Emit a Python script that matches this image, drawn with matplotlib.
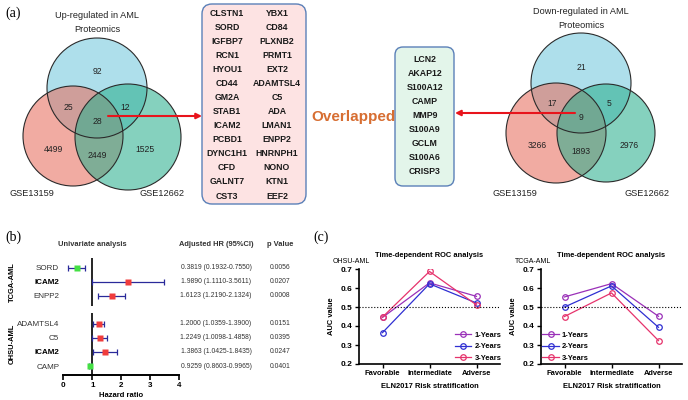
import numpy as np
import matplotlib
matplotlib.use('Agg')
import matplotlib.pyplot as plt
from matplotlib.patches import Circle, FancyBboxPatch

plt.rcParams['font.family'] = ['Liberation Sans', 'DejaVu Sans']

W, H = 688, 400

# ---- panel (a) data ----
venn_regions = ['P', 'G1', 'G2', 'P_G1', 'P_G2', 'G1_G2', 'all']
up_counts = [92, 4499, 1525, 25, 12, 2449, 28]
down_counts = [21, 3266, 2976, 17, 5, 1893, 9]
up_genes_1 = ['CLSTN1', 'SORD', 'IGFBP7', 'RCN1', 'HYOU1', 'CD44', 'GM2A',
              'STAB1', 'ICAM2', 'PCBD1', 'DYNC1H1', 'CFD', 'GALNT7', 'CST3']
up_genes_2 = ['YBX1', 'CD84', 'PLXNB2', 'PRMT1', 'EXT2', 'ADAMTSL4', 'C5',
              'ADA', 'LMAN1', 'ENPP2', 'HNRNPH1', 'NONO', 'KTN1', 'EEF2']
down_genes = ['LCN2', 'AKAP12', 'S100A12', 'CAMP', 'MMP9', 'S100A9', 'GCLM',
              'S100A6', 'CRISP3']

# ---- panel (b) data ----
hr_genes = ['SORD', 'ICAM2', 'ENPP2', 'ADAMTSL4', 'C5', 'ICAM2', 'CAMP']
hr_val = [0.46, 2.22, 1.67, 1.23, 1.25, 1.44, 0.92]
hr_lo = [0.17, 1.00, 1.20, 1.03, 1.00, 1.03, 0.88]
hr_hi = [0.75, 3.47, 2.12, 1.41, 1.50, 1.84, 0.96]
hr_text = ['0.3819 (0.1932-0.7550)', '1.9890 (1.1110-3.5611)',
           '1.6123 (1.2190-2.1324)', '1.2000 (1.0359-1.3900)',
           '1.2249 (1.0098-1.4858)', '1.3863 (1.0425-1.8435)',
           '0.9259 (0.8603-0.9965)']
p_text = ['0.0056', '0.0207', '0.0008', '0.0151', '0.0395', '0.0247', '0.0401']
hr_bold = [False, True, False, False, False, True, False]

# ---- panel (c) data ----
risk_groups = ['Favorable', 'Intermediate', 'Adverse']
years = ['1-Years', '2-Years', '3-Years']
ohsu_auc = [[0.445, 0.627, 0.556], [0.365, 0.622, 0.521], [0.447, 0.687, 0.511]]
tcga_auc = [[0.553, 0.623, 0.451], [0.500, 0.611, 0.393], [0.450, 0.574, 0.323]]
year_colors = ['#9a30b8', '#2f2fd2', '#e6336c']


def fx(px):
    return px / W


def fy(py):
    return 1 - py / H


fig = plt.figure(figsize=(6.88, 4), dpi=100)

bg = fig.add_axes([0, 0, 1, 1])
bg.set_xlim(0, W)
bg.set_ylim(H, 0)
bg.axis('off')

# offsets of the region numbers from the top circle centre
reg_off = [(0, -17), (-44, 62), (48, 62), (-29, 19), (28, 19), (0, 67), (0, 34)]
circ_cols = ['#74c8de', '#e86f60', '#2db08f']


def venn(cx, cy, circles, counts, title):
    for (x, y, r), c in zip(circles, circ_cols):
        bg.add_patch(Circle((x, y), r, facecolor=c, alpha=0.58, edgecolor='none'))
    for (x, y, r) in circles:
        bg.add_patch(Circle((x, y), r, facecolor='none', edgecolor='#2b2b2b', lw=0.8))
    for (dx, dy), n in zip(reg_off, counts):
        bg.text(cx + dx, cy + dy, str(n), ha='center', va='center',
                fontsize=6.2, color='#222222')
    bg.text(cx, cy - 72, title, ha='center', va='center', fontsize=6.6, color='#222222')
    bg.text(cx, cy - 59, 'Proteomics', ha='center', va='center', fontsize=6.6,
            color='#222222')


venn(97, 88, [(97, 88, 50), (73, 136, 50), (128, 137, 53)], up_counts,
     'Up-regulated in AML')
bg.text(32, 193, 'GSE13159', ha='center', va='center', fontsize=6.6, color='#222222')
bg.text(162, 193, 'GSE12662', ha='center', va='center', fontsize=6.6, color='#222222')

venn(581, 84, [(581, 83, 50), (556, 133, 50), (606, 133, 49)], down_counts,
     'Down-regulated in AML')
bg.text(515, 193, 'GSE13159', ha='center', va='center', fontsize=6.6, color='#222222')
bg.text(647, 193, 'GSE12662', ha='center', va='center', fontsize=6.6, color='#222222')

# gene boxes
bg.add_patch(FancyBboxPatch((202, 4), 104, 200, boxstyle='round,pad=0,rounding_size=10',
                            facecolor='#fde3e3', edgecolor='#5b80b8', lw=1))
for i, (g1, g2) in enumerate(zip(up_genes_1, up_genes_2)):
    y = 13 + 14.08 * i
    bg.text(227, y, g1, ha='center', va='center', fontsize=6.3, fontweight='bold',
            color='#1a1a1a')
    bg.text(277, y, g2, ha='center', va='center', fontsize=6.3, fontweight='bold',
            color='#1a1a1a')

bg.add_patch(FancyBboxPatch((395, 47), 59, 139, boxstyle='round,pad=0,rounding_size=8',
                            facecolor='#e3f5ea', edgecolor='#5b80b8', lw=1))
for i, g in enumerate(down_genes):
    bg.text(425, 60 + 14 * i, g, ha='center', va='center', fontsize=6.3,
            fontweight='bold', color='#1a1a1a')

bg.text(353, 117, 'Overlapped', ha='center', va='center', fontsize=11,
        fontweight='bold', color='#d76e32')

arrow = dict(arrowstyle='-|>', color='#e8141c', lw=1.5, mutation_scale=8,
             shrinkA=0, shrinkB=0)
bg.annotate('', xy=(202, 116), xytext=(108, 116), arrowprops=arrow)
bg.annotate('', xy=(455, 113), xytext=(575, 113), arrowprops=arrow)

# panel labels
for lab, x, y in [('(a)', 13, 13), ('(b)', 13, 237), ('(c)', 321, 237)]:
    bg.text(x, y, lab, ha='center', va='center', fontsize=10,
            family='Liberation Serif')

# ---- panel (b): forest plot ----
rows = [0, 1, 2, 4, 5, 6, 7]
axb = fig.add_axes([fx(63.3), fy(375), fx(116), 117 / H])
axb.set_xlim(0, 4)
axb.set_ylim(7.64, -0.7)
for s in ['left', 'top', 'right']:
    axb.spines[s].set_visible(False)
axb.spines['bottom'].set_linewidth(1.4)
axb.vlines(1, -0.7, 2.75, color='black', lw=1.2)
axb.vlines(1, 3.2, 7.64, color='black', lw=1.2)
for r, v, lo, hi in zip(rows, hr_val, hr_lo, hr_hi):
    axb.errorbar(v, r, xerr=[[v - lo], [hi - v]], fmt='none', ecolor='#2a2a9a',
                 elinewidth=0.9, capsize=2, capthick=0.9)
    axb.plot(v, r, 's', ms=5, color='#44e044' if v < 1 else '#f03c3c', mec='none')
axb.set_xticks([0, 1, 2, 3, 4])
axb.tick_params(axis='x', length=3.5, width=1.2, pad=1.5, labelsize=5.8)
for t in axb.get_xticklabels():
    t.set_fontweight('bold')
axb.set_yticks(rows)
axb.set_yticklabels(hr_genes, fontsize=5.8, color='#333333')
axb.tick_params(axis='y', length=0, pad=3)
for t, b in zip(axb.get_yticklabels(), hr_bold):
    if b:
        t.set_fontweight('bold')
        t.set_color('black')
axb.set_xlabel('Hazard ratio', fontsize=5.5, fontweight='bold', labelpad=2)
for r, t1, t2 in zip(rows, hr_text, p_text):
    axb.text(1.316, r, t1, transform=axb.get_yaxis_transform(), ha='center',
             va='center', fontsize=4.9, color='#333333', clip_on=False)
    axb.text(1.868, r, t2, transform=axb.get_yaxis_transform(), ha='center',
             va='center', fontsize=4.9, color='#333333', clip_on=False)

bg.text(92, 245, 'Univariate analysis', ha='center', va='center', fontsize=5.4,
        fontweight='bold', color='#333333')
bg.text(216, 245, 'Adjusted HR (95%CI)', ha='center', va='center', fontsize=5.4,
        fontweight='bold', color='#333333')
bg.text(280, 245, 'p Value', ha='center', va='center', fontsize=5.4,
        fontweight='bold', color='#333333')
bg.text(12, 282, 'TCGA-AML', ha='center', va='center', rotation=90, fontsize=5.4,
        fontweight='bold')
bg.text(12, 344, 'OHSU-AML', ha='center', va='center', rotation=90, fontsize=5.4,
        fontweight='bold')


# ---- panel (c): ROC AUC lines ----
def roc_panel(left, auc, cohort, leg_x):
    ax = fig.add_axes([fx(left), fy(364), fx(141), 95 / H])
    xs = np.arange(len(risk_groups))
    for vals, lab, c in zip(auc, years, year_colors):
        ax.plot(xs, vals, '-o', color=c, lw=0.9, ms=4, mfc='none', mew=0.9, label=lab)
    ax.axhline(0.5, color='black', ls=':', lw=0.8)
    ax.set_xlim(-0.5, 2.5)
    ax.set_ylim(0.2, 0.7)
    ax.set_xticks(xs)
    ax.set_xticklabels(risk_groups)
    ax.set_yticks(np.arange(0.2, 0.71, 0.1))
    ax.set_yticklabels(['%.1f' % v for v in np.arange(0.2, 0.71, 0.1)])
    ax.tick_params(length=3, width=1, pad=1.5, labelsize=5.4)
    ax.tick_params(axis='y', labelsize=6)
    for t in ax.get_xticklabels() + ax.get_yticklabels():
        t.set_fontweight('bold')
    for s in ['top', 'right']:
        ax.spines[s].set_visible(False)
    for s in ['left', 'bottom']:
        ax.spines[s].set_linewidth(1.2)
    ax.set_ylabel('AUC value', fontsize=5.4, fontweight='bold')
    ax.yaxis.set_label_coords(-0.17, 0.5)
    ax.set_xlabel('ELN2017 Risk stratification', fontsize=5.4, fontweight='bold')
    ax.xaxis.set_label_coords(0.5, -0.2)
    ax.text(0.5, 1.147, 'Time-dependent ROC analysis', transform=ax.transAxes,
            ha='center', va='center', fontsize=5.4, fontweight='bold')
    ax.text(-0.184, 1.084, cohort, transform=ax.transAxes, ha='left', va='center',
            fontsize=5)
    leg = ax.legend(loc='lower left', bbox_to_anchor=(leg_x, 0.02), frameon=False,
                    fontsize=5.4, handlelength=2.2, handletextpad=0.4,
                    labelspacing=0.6, borderpad=0, borderaxespad=0)
    for t in leg.get_texts():
        t.set_fontweight('bold')
    return ax


roc_panel(359, ohsu_auc, 'OHSU-AML', 0.68)
roc_panel(541, tcga_auc, 'TCGA-AML', 0.01)

fig.savefig('out.png', dpi=100)
